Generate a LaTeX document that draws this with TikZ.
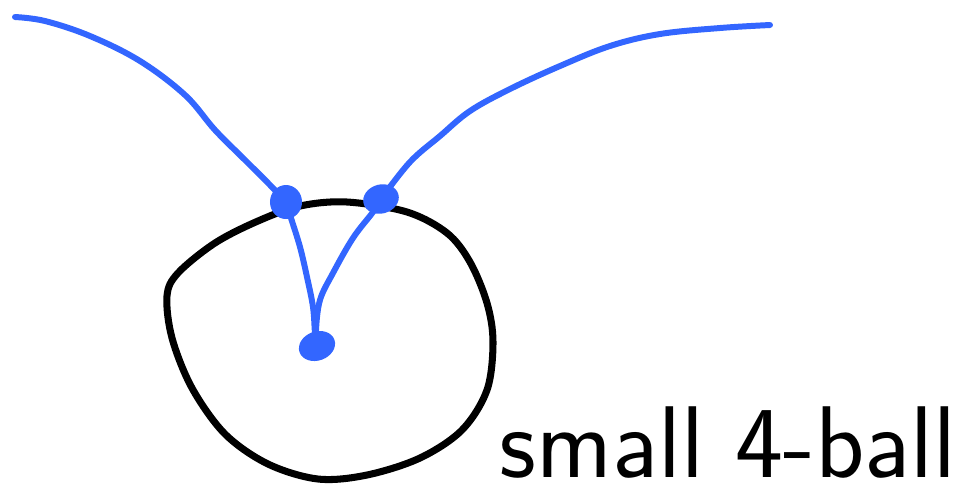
\documentclass[tikz,border=0pt]{standalone}
\definecolor{PENblue}{HTML}{3366FF}
\definecolor{PENblack}{HTML}{000000}
\usetikzlibrary{shapes.geometric}

\begin{document}
\begin{tikzpicture}[x=0.01cm, y=-0.01cm,
    wire/.style={PENblue, line width=1.7pt, line cap=round, line join=round},
    blob/.style={ellipse, fill=PENblue, inner sep=0pt},
    ball/.style={PENblack, line width=2pt, line cap=round}]
            \useasboundingbox (0,0) rectangle (957,493);
            % The small 4-ball
            \draw[ball] plot[smooth cycle, tension=0.55] coordinates {
               (300,206) (347,202) (407,212) (447,233) (470,262) (487,303)
               (493,342) (487,390) (462,430) (420,458) (367,475) (318,479)
               (268,464) (225,434) (192,388) (172,338) (167,296) (178,273)
               (215,243) (258,221)};
            % Blobs
            \node[blob, minimum width=0.32cm, minimum height=0.34cm] (p1) at (286,202) {};
            \node[blob, minimum width=0.36cm, minimum height=0.29cm, rotate=15] (p2) at (381,199) {};
            \node[blob, minimum width=0.37cm, minimum height=0.29cm, rotate=20] (p3) at (317,346) {};
            % Free ends
            \coordinate (tl) at (15,17);
            \coordinate (tr) at (770,25);
            % Left strand
            \draw[wire] plot[smooth, tension=0.6] coordinates {
               (tl) (45,21) (90,36) (140,61) (185,95) (215,130) (245,160) (270,185) (p1)};
            \draw[wire] plot[smooth, tension=0.6] coordinates {
               (p1) (291,218) (300,247) (307,277) (313,307) (315,333) (p3)};
            % Right strand
            \draw[wire] plot[smooth, tension=0.6] coordinates {
               (tr) (720,28) (660,34) (610,46) (560,66) (510,89) (470,111) (440,136) (410,162) (p2)};
            \draw[wire] plot[smooth, tension=0.6] coordinates {
               (p2) (373,212) (353,238) (333,273) (320,300) (316,330) (p3)};
            % Label
            \node[font=\fontsize{29}{34}\selectfont\sffamily, anchor=base, inner sep=0pt] (lbl) at (728,477) {small 4-ball};
         \end{tikzpicture}
\end{document}
